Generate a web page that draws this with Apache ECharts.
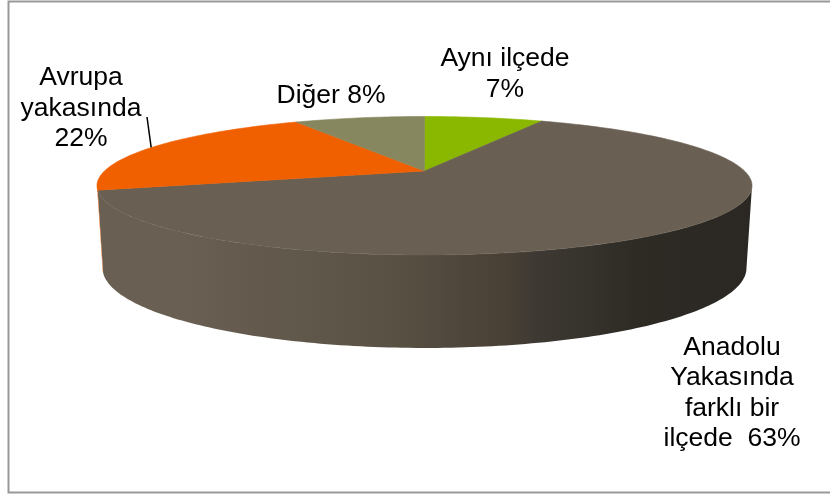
<!DOCTYPE html>
<html>
<head>
<meta charset="utf-8">
<style>
  html, body { margin: 0; padding: 0; background: #fff; }
  #chart { width: 830px; height: 496px; }
</style>
<script src="https://cdn.jsdelivr.net/npm/echarts@6/dist/echarts.min.js"></script>
</head>
<body>
<div id="chart"></div>
<script>
// values, clockwise from 12 o'clock
var categories = ['Aynı ilçede', 'Anadolu Yakasında farklı bir ilçede', 'Avrupa yakasında', 'Diğer'];
var shares = [7.2, 63.4, 21.5, 7.9];
var labelTexts = ['Aynı ilçede\n7%', 'Anadolu\nYakasında\nfarklı bir\nilçede  63%', 'Avrupa\nyakasında\n22%', 'Diğer 8%'];

var topColors = ['#8ab700', '#695f52', '#f06000', '#87875f'];
var labelPos = [[505, 74], [732, 393], [81, 108.5], [331, 96]];

// tilted disc: perspective projection of a circle, top face and bottom face
var cx = 424.5;
var persp = 0.213;
var topFace = { r: 320, h: 66.1, y: 171 };
var bottomFace = { r: 314.6, h: 76.3, y: 251 };
var total = shares.reduce(function (a, b) { return a + b; }, 0);

function project(face, deg) {
  var a = deg * Math.PI / 180;
  var w = 1 + persp * Math.cos(a);
  return [cx + face.r * Math.sin(a) / w, face.y - face.h * Math.cos(a) / w];
}

function arc(face, from, to) {
  var pts = [];
  var n = Math.max(2, Math.ceil(Math.abs(to - from)));
  for (var i = 0; i <= n; i++) {
    pts.push(project(face, from + (to - from) * i / n));
  }
  return pts;
}

// the wall shows only between the two silhouette points
var edge = Math.acos(-persp) * 180 / Math.PI;
var frontFrom = edge;
var frontTo = 360 - edge;

function wallFill(i) {
  if (i !== 1) return topColors[i];
  return new echarts.graphic.LinearGradient(103, 0, 747, 0, [
    { offset: 0, color: '#695f52' },
    { offset: 0.12, color: '#695f52' },
    { offset: 0.43, color: '#5a5345' },
    { offset: 0.63, color: '#483f35' },
    { offset: 0.67, color: '#3e3a33' },
    { offset: 0.83, color: '#2e2b25' },
    { offset: 1, color: '#2b2824' }
  ], true);
}

var seriesData = [];
var running = 0;
shares.forEach(function (v, i) {
  seriesData.push({ name: categories[i], value: [v, running] });
  running += v;
});

function renderSlice(params, api) {
  var i = params.dataIndex;
  var from = api.value(1) / total * 360;
  var to = from + api.value(0) / total * 360;
  var children = [];

  var a = Math.max(from, frontFrom);
  var b = Math.min(to, frontTo);
  if (b > a) {
    children.push({
      type: 'polygon',
      shape: { points: arc(topFace, a, b).concat(arc(bottomFace, b, a)) },
      style: { fill: wallFill(i) }
    });
  }
  children.push({
    type: 'polygon',
    shape: { points: [[cx, topFace.y]].concat(arc(topFace, from, to)) },
    style: { fill: topColors[i], stroke: topColors[i], lineWidth: 0.6 }
  });
  // leader line of the Avrupa label ends on the middle of its rim
  if (i === 2) {
    var rim = project(topFace, (from + to) / 2);
    children.push({
      type: 'line',
      shape: { x1: 147, y1: 117, x2: rim[0] - 1, y2: rim[1] },
      style: { stroke: '#000', lineWidth: 1.5 }
    });
  }
  children.push({
    type: 'text',
    x: labelPos[i][0],
    y: labelPos[i][1],
    z2: 10,
    style: {
      text: labelTexts[i],
      fontFamily: '"Liberation Sans", Arial, sans-serif',
      fontSize: 26.5,
      lineHeight: 30.5,
      fill: '#000',
      align: 'center',
      verticalAlign: 'middle'
    }
  });
  return { type: 'group', children: children };
}

var chart = echarts.init(document.getElementById('chart'), null, { renderer: 'canvas' });
chart.setOption({
  animation: false,
  backgroundColor: '#fff',
  graphic: [{
    type: 'rect',
    shape: { x: 8.5, y: 1.5, width: 840, height: 491 },
    style: { fill: 'none', stroke: '#999', lineWidth: 2 },
    silent: true
  }],
  series: [{
    type: 'custom',
    coordinateSystem: 'none',
    renderItem: renderSlice,
    data: seriesData,
    encode: { value: 0 },
    silent: true
  }]
});
</script>
</body>
</html>
